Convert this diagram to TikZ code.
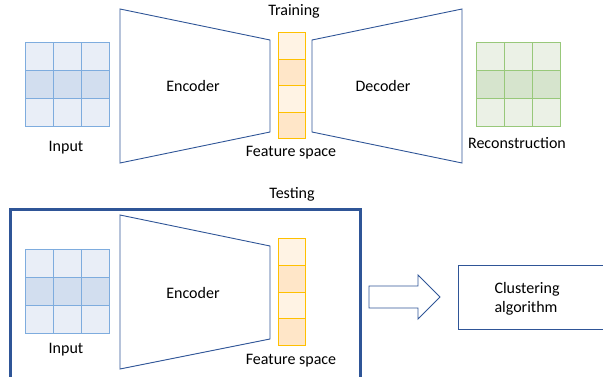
\documentclass[tikz,border=0pt]{standalone}
\usepackage{fontspec}
\setmainfont{Carlito}
\usetikzlibrary{calc,positioning}
\definecolor{inblue}{RGB}{126,172,222}
\definecolor{inlight}{RGB}{233,238,247}
\definecolor{indark}{RGB}{210,222,239}
\definecolor{recgreen}{RGB}{152,200,122}
\definecolor{reclight}{RGB}{235,241,230}
\definecolor{recdark}{RGB}{214,228,205}
\definecolor{featorange}{RGB}{255,192,0}
\definecolor{featlight}{RGB}{255,243,228}
\definecolor{featdark}{RGB}{255,230,200}
\definecolor{netblue}{RGB}{47,85,151}

\begin{document}
\begin{tikzpicture}[x=1pt, y=-1pt, line join=miter, font=\fontsize{16}{19}\selectfont,
    net/.style={draw=netblue, line width=0.9pt},
    cell/.style={line width=1pt}]
		\useasboundingbox (0,0) rectangle (603,377);

		% training
		\node (train) at (294,11) {Training};
		% input grid
		\coordinate (in1) at (25,43);
		\foreach \r/\f in {0/inlight,1/indark,2/inlight}
			\foreach \c in {0,1,2}
				\draw [cell,draw=inblue,fill=\f] ($(in1)+(28*\c,28*\r)$) rectangle +(28,28);
		\node (in1lab) at (66,148) {Input};

		% encoder
		\draw [net] (120,9)--(270,40)--(270,132)--(120,163)--cycle;
		\node (enc1) at (193,86) {Encoder};

		% feature space
		\coordinate (fs1) at (278,33);
		\foreach \k/\f in {0/featlight,1/featdark,2/featlight,3/featdark}
			\draw [cell,draw=featorange,fill=\f] ($(fs1)+(0,26.5*\k)$) rectangle +(27,26.5);
		\node (fs1lab) at (291,153) {Feature space};

		% decoder
		\draw [net] (312,40)--(462,9)--(462,163)--(312,132)--cycle;
		\node (dec) at (383,86) {Decoder};

		% reconstruction grid
		\coordinate (rec) at (476,43);
		\foreach \r/\f in {0/reclight,1/recdark,2/reclight}
			\foreach \c in {0,1,2}
				\draw [cell,draw=recgreen,fill=\f] ($(rec)+(28*\c,28*\r)$) rectangle +(28,28);
		\node (reclab) at (517,143) {Reconstruction};

		% testing
		\node (test) at (292,194) {Testing};
		\draw [netblue,line width=3pt] (10,380)--(10,209.5)--(360,209.5)--(360,380);

		\coordinate (in2) at (25,249);
		\foreach \r/\f in {0/inlight,1/indark,2/inlight}
			\foreach \c in {0,1,2}
				\draw [cell,draw=inblue,fill=\f] ($(in2)+(28*\c,28*\r)$) rectangle +(28,28);
		\node (in2lab) at (66,350) {Input};

		\draw [net] (120,215)--(270,246)--(270,339)--(120,369)--cycle;
		\node (enc2) at (193,293) {Encoder};

		\coordinate (fs2) at (278,239);
		\foreach \k/\f in {0/featlight,1/featdark,2/featlight,3/featdark}
			\draw [cell,draw=featorange,fill=\f] ($(fs2)+(0,26.5*\k)$) rectangle +(27,26.5);
		\node (fs2lab) at (291,361) {Feature space};

		% block arrow to the clustering step
		\draw [net] (369,286)--(418,286)--(418,275)--(440,297)--(418,319)--(418,308)--(369,308)--cycle;

		\draw [net] (610,265)--(458,265)--(458,329)--(610,329);
		\node [anchor=west,align=left] (clust) at (491,299) {Clustering\\algorithm};
    \end{tikzpicture}
\end{document}
